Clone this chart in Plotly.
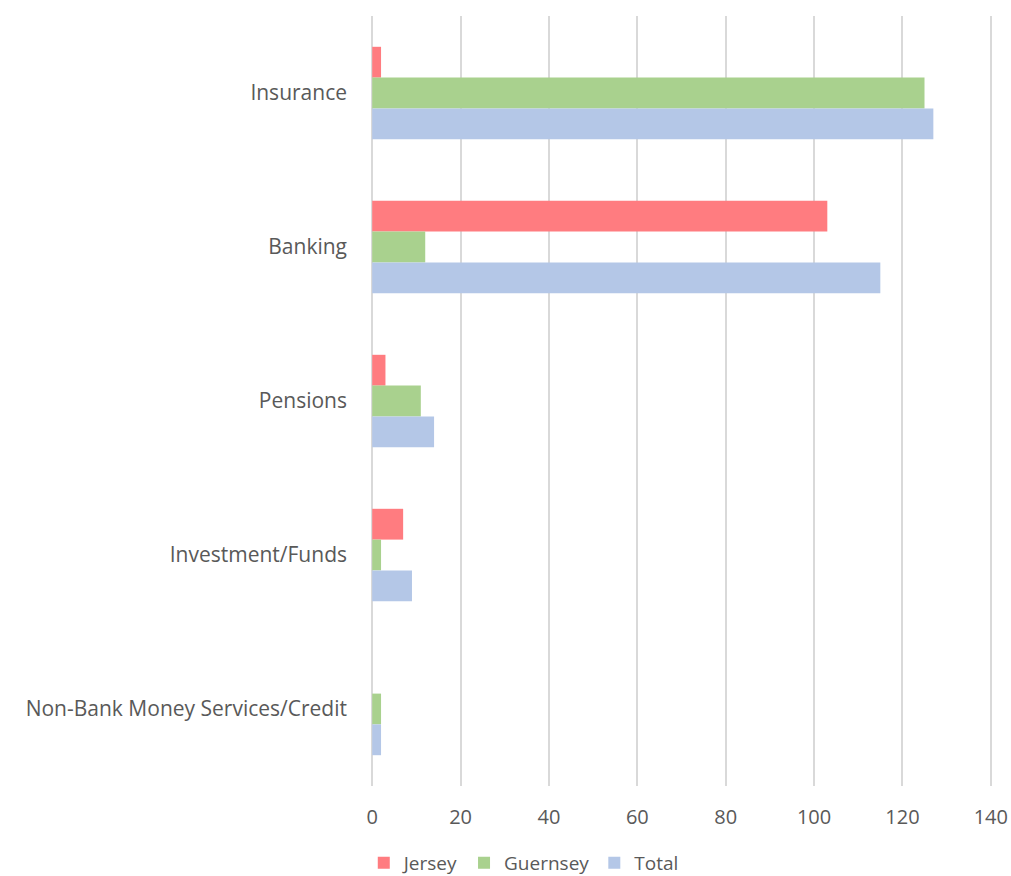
import plotly.graph_objects as go

# Sectors, listed top to bottom
sectors = ["Insurance", "Banking", "Pensions", "Investment/Funds",
           "Non-Bank Money Services/Credit"]

jersey = [2, 103, 3, 7, 0]
guernsey = [125, 12, 11, 2, 2]
total = [127, 115, 14, 9, 2]

x_ticks = [0, 20, 40, 60, 80, 100, 120, 140]

series = [
    ("Jersey", jersey, "#FF7C80"),
    ("Guernsey", guernsey, "#A9D18E"),
    ("Total", total, "#B4C7E7"),
]

fig = go.Figure()
for name, values, color in series:
    fig.add_trace(go.Bar(
        y=sectors, x=values, name=name, orientation="h",
        marker=dict(color=color, line=dict(width=0)),
    ))

font_family = "'Open Sans', Lato, sans-serif"
text_color = "#595959"
grid_color = "#D9D9D9"

fig.update_layout(
    width=1011, height=876,
    margin=dict(l=370, r=18, t=16, b=90, autoexpand=False),
    paper_bgcolor="white", plot_bgcolor="white",
    barmode="group", bargap=0.4, bargroupgap=0,
    font=dict(family=font_family, size=19, color=text_color),
    xaxis=dict(
        range=[-0.5, 140.5], tickvals=x_ticks,
        ticktext=[str(v) for v in x_ticks],
        showgrid=True, gridcolor=grid_color, gridwidth=2,
        zeroline=True, zerolinecolor=grid_color, zerolinewidth=2,
        showline=False, ticks="",
        ticklabelstandoff=17, tickfont=dict(size=20, color=text_color),
    ),
    yaxis=dict(
        autorange="reversed", showgrid=False, zeroline=False, showline=False,
        ticks="", ticklabelstandoff=22, tickfont=dict(size=21, color=text_color),
    ),
    legend=dict(
        orientation="h", x=-0.01, xanchor="left", y=-0.100, yanchor="middle",
        itemwidth=30, font=dict(size=19, color=text_color),
        traceorder="normal", bgcolor="rgba(0,0,0,0)",
    ),
)

fig.write_html("out.html")
